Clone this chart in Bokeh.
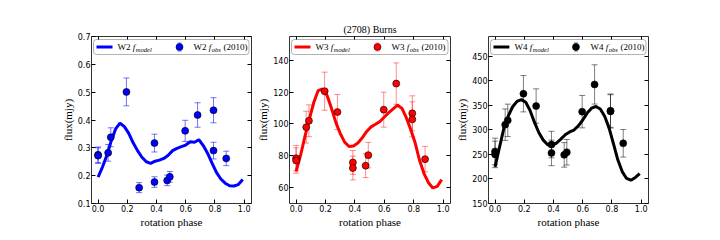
from bokeh.plotting import figure
from bokeh.layouts import row
from bokeh.models import (Range1d, FixedTicker, LinearAxis, Whisker, TeeHead,
                          ColumnDataSource, Label, BoxAnnotation, PrintfTickFormatter)
from bokeh.embed import file_html
from bokeh.resources import INLINE

# ---------------- data ----------------
obs_phase = [0.0, 0.0, 0.069, 0.087, 0.194, 0.281, 0.386, 0.386, 0.473, 0.491,
             0.596, 0.681, 0.790, 0.790, 0.877]

w2_obs = [0.275, 0.272, 0.282, 0.338, 0.501, 0.157, 0.317, 0.177, 0.183, 0.196,
          0.361, 0.418, 0.435, 0.290, 0.262]
w2_err = [0.028, 0.028, 0.030, 0.034, 0.050, 0.018, 0.032, 0.019, 0.019, 0.019,
          0.038, 0.044, 0.045, 0.030, 0.026]

w3_obs = [78.5, 77.0, 98.0, 102.0, 120.6, 107.5, 75.8, 72.3, 73.8, 80.4,
          109.0, 125.4, 106.7, 102.9, 77.9]
w3_err = [8.0, 8.0, 10.0, 10.0, 12.0, 11.0, 7.5, 7.5, 7.5, 8.0,
          11.0, 13.0, 11.0, 11.0, 8.0]

w4_obs = [256.0, 250.0, 310.5, 319.3, 373.5, 348.4, 270.0, 253.0, 249.0, 254.3,
          337.0, 392.4, 339.0, 337.5, 272.6]
w4_err = [27, 27, 32, 33, 37, 35, 27, 26, 25, 26, 33, 40, 34, 34, 28]

model_phase = [0.00, 0.03, 0.06, 0.09, 0.12, 0.15, 0.18, 0.21, 0.24, 0.27,
               0.30, 0.33, 0.36, 0.39, 0.42, 0.45, 0.48, 0.51, 0.54, 0.57,
               0.60, 0.63, 0.66, 0.69, 0.72, 0.75, 0.78, 0.81, 0.84, 0.87,
               0.90, 0.93, 0.96, 0.99]
w2_model = [0.195, 0.231, 0.273, 0.325, 0.368, 0.389, 0.376, 0.352, 0.318, 0.290,
            0.266, 0.250, 0.244, 0.252, 0.256, 0.262, 0.273, 0.290, 0.298, 0.304,
            0.310, 0.322, 0.320, 0.329, 0.308, 0.280, 0.245, 0.212, 0.188, 0.173,
            0.164, 0.163, 0.168, 0.186]
w3_model = [70.2, 80.2, 92.2, 103.0, 113.5, 121.0, 122.0, 118.0, 110.0, 101.0,
            94.0, 88.6, 85.8, 86.2, 88.0, 91.3, 95.3, 98.2, 99.8, 101.6,
            104.4, 107.1, 109.5, 111.8, 109.8, 103.8, 96.4, 88.0, 77.0, 68.8,
            63.1, 59.8, 60.8, 65.0]
w4_model = [224.5, 264.0, 303.0, 328.0, 347.0, 358.0, 361.5, 356.0, 339.0, 315.0,
            294.0, 279.0, 269.5, 268.0, 273.0, 281.0, 290.0, 295.6, 299.6, 308.0,
            320.0, 334.0, 344.0, 347.5, 342.5, 327.5, 304.0, 272.0, 239.0, 215.0,
            201.0, 197.5, 203.0, 211.0]

x_ticks = [0.0, 0.2, 0.4, 0.6, 0.8, 1.0]
w2_ticks = [0.1, 0.2, 0.3, 0.4, 0.5, 0.6, 0.7]
w3_ticks = [60, 80, 100, 120, 140]
w4_ticks = [150, 200, 250, 300, 350, 400, 450]

title_text = "(2708) Burns"
x_label = "rotation phase"
y_label = "flux(mjy)"

# ---------------- style ----------------
X_START, X_END = -0.045, 1.05
FRAME_H = 167
B_TOP, B_BOT = 36, 32
SERIF = "Liberation Serif"
SANS = "DejaVu Sans"


def style_axis(ax, ticks, show_labels=True, axis_label=None, fmt=None):
    ax.ticker = FixedTicker(ticks=ticks)
    ax.major_tick_in = 4
    ax.major_tick_out = 0
    ax.minor_tick_line_color = None
    ax.axis_line_color = None
    ax.major_tick_line_color = "black"
    ax.major_tick_line_width = 1
    if show_labels:
        ax.major_label_text_font = SANS
        ax.major_label_text_font_size = "8px"
        ax.major_label_text_color = "black"
        ax.major_label_standoff = 1
        if fmt:
            ax.formatter = PrintfTickFormatter(format=fmt)
    else:
        ax.major_label_overrides = {t: "" for t in ticks}
        ax.major_label_text_font_size = "0px"
        ax.major_label_standoff = 0
    if axis_label:
        ax.axis_label = axis_label
        ax.axis_label_text_font = SERIF
        ax.axis_label_text_font_size = "11px"
        ax.axis_label_text_font_style = "normal"
        ax.axis_label_text_color = "black"
        ax.axis_label_standoff = 1


def add_legend(p, band, color, ecolor, ealpha, y0, y1, fw):
    dx = (X_END - X_START) / fw
    dy = (y1 - y0) / FRAME_H

    def X(px):
        return X_START + px * dx

    def Y(px):
        return y1 - px * dy

    box = BoxAnnotation(left=X(2), right=X(fw - 2.5), top=Y(3), bottom=Y(18),
                        fill_color="white", fill_alpha=1.0, line_color="black",
                        line_width=1, border_radius=3, level="annotation")
    p.add_layout(box)
    ln = p.line([X(5), X(21)], [Y(10.5), Y(10.5)], line_color=color, line_width=3)
    ln.level = "overlay"
    src = ColumnDataSource(dict(x=[X(88)], up=[Y(6.5)], lo=[Y(14.5)]))
    wk = Whisker(source=src, base="x", upper="up", lower="lo", dimension="height",
                 line_color=ecolor, line_alpha=ealpha, line_width=1,
                 upper_head=TeeHead(size=4, line_color=ecolor, line_alpha=ealpha),
                 lower_head=TeeHead(size=4, line_color=ecolor, line_alpha=ealpha),
                 level="overlay")
    p.add_layout(wk)
    sc = p.scatter([X(88)], [Y(10.5)], size=7, fill_color=color, line_color="black",
                   line_width=0.6)
    sc.level = "overlay"

    def lab(text, xo, yo, size="9px", italic=False):
        p.add_layout(Label(x=X_START, y=y1, x_offset=xo, y_offset=yo, text=text,
                           text_font=SERIF, text_font_size=size,
                           text_font_style="italic" if italic else "normal",
                           text_baseline="middle", text_align="left",
                           text_color="black", level="overlay"))

    lab(band, 26, -10.5)
    lab("f", 41.3, -10.5, italic=True)
    lab("model", 44.3, -13.0, size="6.5px", italic=True)
    lab(band, 102, -10.5)
    lab("f", 117.3, -10.5, italic=True)
    lab("obs", 120.3, -13.0, size="6.5px", italic=True)
    lab("(2010)", 132, -10.5)


def make_panel(band, obs, err, model, color, ecolor, ealpha, y0, y1, yticks, yfmt,
               bl, br, fw, title=None):
    p = figure(width=bl + fw + br, height=B_TOP + FRAME_H + B_BOT,
               x_range=Range1d(X_START, X_END), y_range=Range1d(y0, y1),
               output_backend="svg", toolbar_location=None,
               min_border_left=bl, min_border_right=br,
               min_border_top=B_TOP, min_border_bottom=B_BOT)
    p.xgrid.visible = False
    p.ygrid.visible = False
    p.outline_line_color = "#333333"
    p.outline_line_width = 1
    p.background_fill_color = "white"
    p.border_fill_color = "white"

    style_axis(p.xaxis[0], x_ticks, True, x_label, "%.1f")
    style_axis(p.yaxis[0], yticks, True, y_label, yfmt)
    top = LinearAxis()
    style_axis(top, x_ticks, False)
    if title:
        top.axis_label = title
        top.axis_label_text_font = SERIF
        top.axis_label_text_font_size = "10px"
        top.axis_label_text_font_style = "normal"
        top.axis_label_text_color = "black"
        top.axis_label_standoff = 2
    p.add_layout(top, "above")
    right = LinearAxis()
    style_axis(right, yticks, False)
    p.add_layout(right, "right")

    p.line(model_phase, model, line_color=color, line_width=3)

    lo = [v - e for v, e in zip(obs, err)]
    up = [v + e for v, e in zip(obs, err)]
    src = ColumnDataSource(dict(x=obs_phase, y=obs, lo=lo, up=up))
    wk = Whisker(source=src, base="x", upper="up", lower="lo", dimension="height",
                 line_color=ecolor, line_alpha=ealpha, line_width=1,
                 upper_head=TeeHead(size=6, line_color=ecolor, line_alpha=ealpha),
                 lower_head=TeeHead(size=6, line_color=ecolor, line_alpha=ealpha))
    p.add_layout(wk)
    p.scatter("x", "y", source=src, size=7, fill_color=color, line_color="black",
              line_width=0.6)

    add_legend(p, band, color, ecolor, ealpha, y0, y1, fw)
    return p


p1 = make_panel("W2", w2_obs, w2_err, w2_model, "#0000ff", "#0000ff", 0.55,
                0.1, 0.7, w2_ticks, "%.1f", 91, 3, 160)
p2 = make_panel("W3", w3_obs, w3_err, w3_model, "#ff0000", "#ff0000", 0.45,
                50, 155, w3_ticks, None, 35, 3, 161, title=title_text)
p3 = make_panel("W4", w4_obs, w4_err, w4_model, "black", "black", 0.5,
                150, 490, w4_ticks, None, 34, 10, 161)

layout = row(p1, p2, p3)
open("out.html", "w").write(file_html(layout, INLINE))
